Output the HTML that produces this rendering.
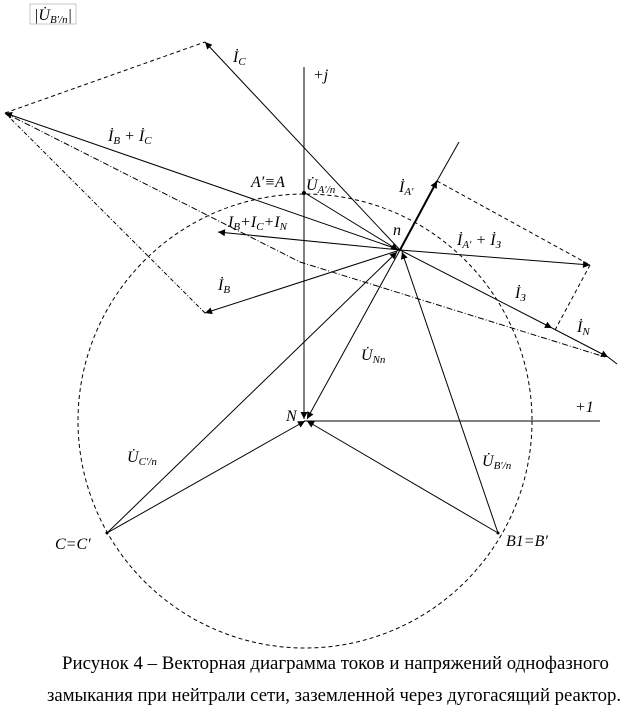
<!DOCTYPE html>
<html><head><meta charset="utf-8"><style>
html,body{margin:0;padding:0;background:#fff;width:637px;height:713px;overflow:hidden}
svg{position:absolute;left:0;top:0}
text{font-family:"Liberation Serif",serif;font-style:italic;font-size:16px;fill:#000}
.s{font-size:11px}
.cap{font-style:normal;font-size:18.5px}
</style></head><body>
<svg width="637" height="713" viewBox="0 0 637 713">
<defs>
<marker id="a" viewBox="0 0 10 10" refX="10" refY="5" markerWidth="9" markerHeight="7" orient="auto" markerUnits="userSpaceOnUse"><path d="M0,0L10,5L0,10z" fill="#000"/></marker>
</defs>
<g fill="none" stroke="#000" stroke-width="1">
<circle cx="305" cy="421" r="227" stroke-dasharray="4,3"/>
<line x1="304" y1="67" x2="304" y2="419" marker-end="url(#a)"/>
<line x1="304" y1="421" x2="600" y2="421"/>
<polyline points="5,113 205,42" stroke-dasharray="4,3"/>
<polyline points="5,113 205,313" stroke-dasharray="4,2,1,2"/>
<polyline points="5,113 300,262 605,357" stroke-dasharray="6,2,1,2"/>
<line x1="437" y1="181" x2="590" y2="265" stroke-dasharray="4,3"/>
<line x1="590" y1="265" x2="555" y2="330" stroke-dasharray="4,3"/>
<line x1="400" y1="250" x2="205" y2="42" marker-end="url(#a)"/>
<line x1="400" y1="250" x2="5" y2="113" marker-end="url(#a)"/>
<line x1="400" y1="250" x2="218" y2="232" marker-end="url(#a)"/>
<line x1="400" y1="250" x2="205" y2="313" marker-end="url(#a)"/>
<line x1="400" y1="250" x2="437" y2="181" marker-end="url(#a)" stroke-width="2"/>
<line x1="437" y1="181" x2="459" y2="142"/>
<line x1="400" y1="250" x2="590" y2="265" marker-end="url(#a)"/>
<line x1="400" y1="250" x2="552" y2="328" marker-end="url(#a)"/>
<line x1="552" y1="328" x2="608" y2="357" marker-end="url(#a)"/>
<line x1="608" y1="357" x2="617" y2="364"/>
<line x1="305" y1="193" x2="398" y2="250" marker-end="url(#a)"/>
<line x1="107" y1="533" x2="397" y2="252" marker-end="url(#a)"/>
<line x1="498" y1="533" x2="402" y2="252" marker-end="url(#a)"/>
<line x1="400" y1="250" x2="307" y2="419" marker-end="url(#a)"/>
<line x1="107" y1="533" x2="305" y2="421" marker-end="url(#a)"/>
<line x1="498" y1="533" x2="307" y2="421" marker-end="url(#a)"/>
</g>
<circle cx="304" cy="193" r="2" fill="#000"/>
<circle cx="107" cy="533" r="1.5" fill="#000"/>
<circle cx="498" cy="533" r="1.5" fill="#000"/>
<rect x="30" y="4" width="46" height="20" fill="none" stroke="#9a9" stroke-width="0.6"/>
<text x="34" y="20">|U̇<tspan class="s" dy="3">B′/n</tspan><tspan dy="-3">|</tspan></text>
<text x="233" y="62">İ<tspan class="s" dy="3">C</tspan></text>
<text x="313" y="80">+j</text>
<text x="108" y="141">İ<tspan class="s" dy="3">B</tspan><tspan dy="-3"> + İ</tspan><tspan class="s" dy="3">C</tspan></text>
<text x="251" y="187">A′≡A</text>
<text x="306" y="190">U̇<tspan class="s" dy="3">A′/n</tspan></text>
<text x="399" y="192">İ<tspan class="s" dy="3">A′</tspan></text>
<text x="393" y="235">n</text>
<text x="228" y="227">I<tspan class="s" dy="3">B</tspan><tspan dy="-3">+I</tspan><tspan class="s" dy="3">C</tspan><tspan dy="-3">+I</tspan><tspan class="s" dy="3">N</tspan></text>
<text x="457" y="245">İ<tspan class="s" dy="3">A′</tspan><tspan dy="-3"> + İ</tspan><tspan class="s" dy="3">З</tspan></text>
<text x="218" y="290">İ<tspan class="s" dy="3">B</tspan></text>
<text x="515" y="298">İ<tspan class="s" dy="3">З</tspan></text>
<text x="577" y="332">İ<tspan class="s" dy="3">N</tspan></text>
<text x="361" y="360">U̇<tspan class="s" dy="3">Nn</tspan></text>
<text x="286" y="421">N</text>
<text x="575" y="412">+1</text>
<text x="127" y="462">U̇<tspan class="s" dy="3">C′/n</tspan></text>
<text x="482" y="466">U̇<tspan class="s" dy="3">B′/n</tspan></text>
<text x="55" y="549">C=C′</text>
<text x="506" y="546">B1=B′</text>
<text class="cap" x="62" y="669" textLength="547" lengthAdjust="spacingAndGlyphs">Рисунок 4 – Векторная диаграмма токов и напряжений однофазного</text>
<text class="cap" x="47" y="701" textLength="574" lengthAdjust="spacingAndGlyphs">замыкания при нейтрали сети, заземленной через дугогасящий реактор.</text>
</svg>
</body></html>
